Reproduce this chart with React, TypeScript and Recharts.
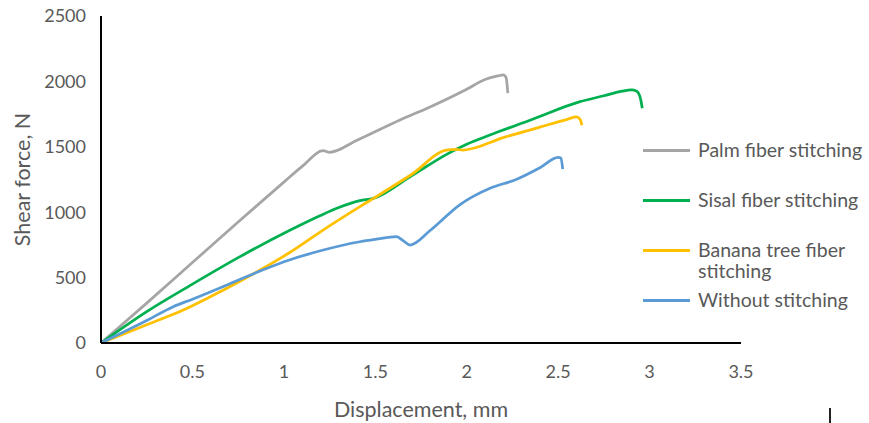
import React from "react";
import { LineChart, Line, XAxis, YAxis, Legend, Label } from "recharts";

const palmX = [0, 0.25, 0.5, 0.75, 1.0, 1.1, 1.215, 1.25, 1.4, 1.635, 1.8, 2.0, 2.1, 2.17, 2.2, 2.215, 2.225];
const palmY = [0, 305, 615, 925, 1230, 1350, 1470, 1458, 1550, 1705, 1805, 1940, 2015, 2042, 2050, 2030, 1910];

const sisalX = [0, 0.25, 0.5, 0.76, 1.03, 1.2, 1.29, 1.416, 1.49, 1.7, 1.9, 2.0, 2.127, 2.35, 2.62, 2.75, 2.85, 2.9, 2.93, 2.95, 2.96];
const sisalY = [0, 240, 450, 660, 860, 975, 1030, 1088, 1106, 1280, 1450, 1520, 1590, 1705, 1845, 1890, 1925, 1935, 1925, 1870, 1795];

const bananaX = [0, 0.1, 0.25, 0.45, 0.6, 0.75, 0.887, 1.03, 1.2, 1.416, 1.49, 1.7, 1.89, 1.94, 1.98, 2.2, 2.4, 2.55, 2.6, 2.62, 2.63];
const bananaY = [0, 55, 140, 252, 355, 465, 571, 690, 850, 1042, 1106, 1290, 1475, 1480, 1475, 1570, 1650, 1710, 1728, 1710, 1665];

const plainX = [0, 0.25, 0.395, 0.5, 0.75, 0.887, 1.03, 1.2, 1.416, 1.5, 1.617, 1.65, 1.69, 1.8, 1.96, 2.127, 2.27, 2.4, 2.5, 2.515, 2.525];
const plainY = [0, 172, 278, 335, 480, 560, 635, 705, 774, 792, 813, 785, 749, 860, 1055, 1183, 1250, 1340, 1420, 1415, 1330];

const xTicks = [0, 0.5, 1, 1.5, 2, 2.5, 3, 3.5];
const yTicks = [0, 500, 1000, 1500, 2000, 2500];

const toPoints = (xs: number[], ys: number[]) => xs.map((x, i) => ({ x, y: ys[i] }));

const series = [
  { name: "Palm fiber stitching", color: "#A5A5A5", data: toPoints(palmX, palmY) },
  { name: "Sisal fiber stitching", color: "#00B050", data: toPoints(sisalX, sisalY) },
  { name: "Banana tree fiber stitching", color: "#FFC000", data: toPoints(bananaX, bananaY) },
  { name: "Without stitching", color: "#5B9BD5", data: toPoints(plainX, plainY) },
];
const order = series.map((s) => s.name);

const FONT = "Lato, 'Open Sans', sans-serif";
const TEXT = "#595959";

function renderLegend(props: any) {
  const items = [...(props.payload || [])].sort(
    (a: any, b: any) => order.indexOf(a.value) - order.indexOf(b.value)
  );
  return (
    <div style={{ fontFamily: FONT, fontSize: 19.5, color: TEXT }}>
      {items.map((p: any) => (
        <div key={p.value} style={{ height: 50, display: "flex", alignItems: "flex-start" }}>
          <span
            style={{
              width: 47,
              height: 3,
              marginTop: 10,
              marginRight: 8,
              background: p.color,
              flexShrink: 0,
            }}
          />
          <span style={{ lineHeight: "21px", width: 170 }}>{p.value}</span>
        </div>
      ))}
    </div>
  );
}

export default function App() {
  return (
    <div style={{ position: "absolute", left: 0, top: 0, width: 869, height: 423, background: "#fff" }}>
      <LineChart width={869} height={423} margin={{ top: 16, right: 128, bottom: 0, left: 0 }}>
        <XAxis
          type="number"
          dataKey="x"
          domain={[0, 3.5]}
          ticks={xTicks}
          height={80}
          tickSize={0}
          tickMargin={22}
          axisLine={{ stroke: "#000", strokeWidth: 2 }}
          tick={{ fill: TEXT, fontSize: 18, fontFamily: FONT }}
        >
          <Label
            value="Displacement, mm"
            position="insideBottom"
            offset={6}
            style={{ fill: TEXT, fontSize: 21.5, fontFamily: FONT }}
          />
        </XAxis>
        <YAxis
          type="number"
          domain={[0, 2500]}
          ticks={yTicks}
          width={101}
          tickSize={0}
          tickMargin={15}
          axisLine={{ stroke: "#000", strokeWidth: 2 }}
          tick={{ fill: TEXT, fontSize: 18, fontFamily: FONT }}
        >
          <Label
            value="Shear force, N"
            angle={-90}
            position="insideLeft"
            offset={22}
            style={{ fill: TEXT, fontSize: 21.5, fontFamily: FONT, textAnchor: "middle" }}
          />
        </YAxis>
        {series.map((s) => (
          <Line
            key={s.name}
            data={s.data}
            dataKey="y"
            name={s.name}
            type="monotone"
            stroke={s.color}
            strokeWidth={2.75}
            dot={false}
            activeDot={false}
            isAnimationActive={false}
          />
        ))}
        <Legend
          layout="vertical"
          verticalAlign="middle"
          align="center"
          content={renderLegend}
          wrapperStyle={{ left: 643, top: 139, width: 226 }}
        />
      </LineChart>
      <div style={{ position: "absolute", left: 829, top: 408, width: 2, height: 15, background: "#222" }} />
    </div>
  );
}
